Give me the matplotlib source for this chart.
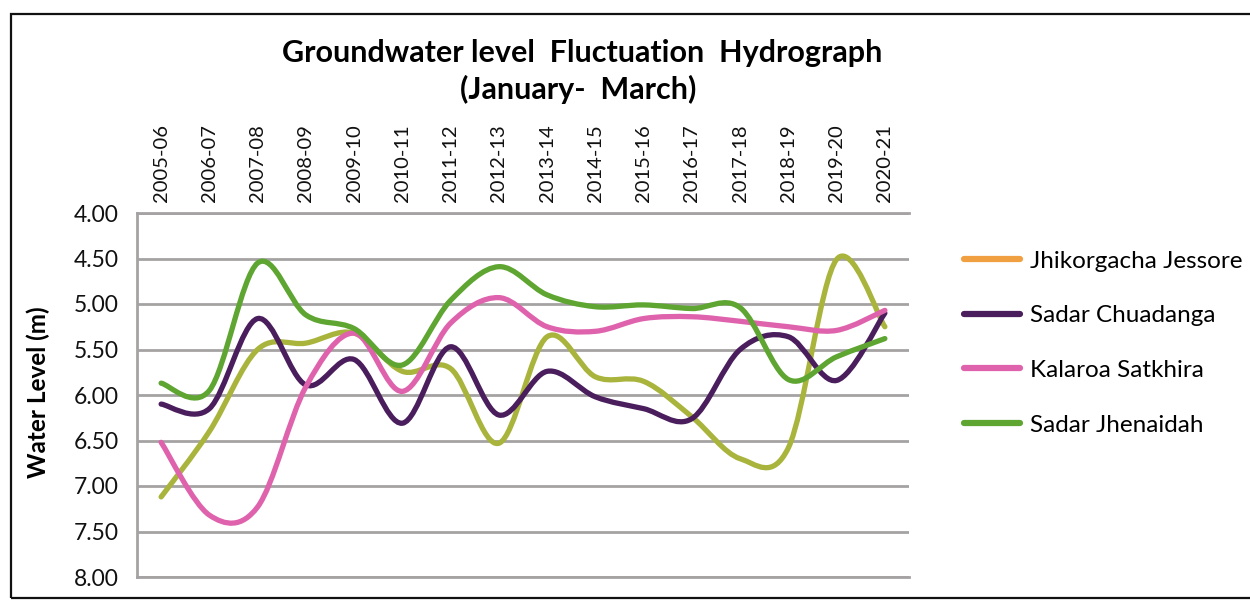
import matplotlib
matplotlib.use("Agg")
import matplotlib.pyplot as plt
from matplotlib.path import Path
from matplotlib.patches import PathPatch, Rectangle
from matplotlib.lines import Line2D
import numpy as np

plt.rcParams['font.family'] = ['Lato', 'DejaVu Sans']

categories = ['2005-06', '2006-07', '2007-08', '2008-09', '2009-10', '2010-11',
              '2011-12', '2012-13', '2013-14', '2014-15', '2015-16', '2016-17',
              '2017-18', '2018-19', '2019-20', '2020-21']

jhikorgacha = [7.12, 6.40, 5.50, 5.43, 5.32, 5.74, 5.71, 6.53, 5.36, 5.80,
               5.85, 6.24, 6.70, 6.58, 4.51, 5.25]
chuadanga = [6.10, 6.15, 5.16, 5.89, 5.61, 6.31, 5.47, 6.22, 5.74, 6.02,
             6.15, 6.26, 5.50, 5.36, 5.84, 5.10]
kalaroa = [6.52, 7.32, 7.23, 5.91, 5.32, 5.96, 5.21, 4.93, 5.25, 5.30,
           5.16, 5.14, 5.19, 5.25, 5.29, 5.07]
jhenaidah = [5.87, 5.95, 4.55, 5.12, 5.27, 5.67, 4.96, 4.59, 4.90, 5.03,
             5.01, 5.05, 5.04, 5.83, 5.58, 5.38]

series_names = ['Jhikorgacha Jessore', 'Sadar Chuadanga', 'Kalaroa Satkhira', 'Sadar Jhenaidah']
series_values = [jhikorgacha, chuadanga, kalaroa, jhenaidah]
line_colors = ['#a9b43c', '#4a1d5c', '#df62ad', '#5ea531']
legend_colors = ['#f0a040', '#4a1d5c', '#df62ad', '#5ea531']
yticks = [4.0, 4.5, 5.0, 5.5, 6.0, 6.5, 7.0, 7.5, 8.0]

fig = plt.figure(figsize=(12.5, 6.01), dpi=100)
ax = fig.add_axes([137/1250, 1-577/601, 772/1250, 364/601])

x = np.arange(len(categories))


def smooth_path(xs, ys):
    # Excel-style smoothed line: cubic Bezier segments through every point
    pts = np.column_stack([xs, ys]).astype(float)
    n = len(pts)
    verts = [pts[0]]
    codes = [Path.MOVETO]
    for i in range(n - 1):
        p0 = pts[i - 1] if i > 0 else pts[i]
        p1 = pts[i]
        p2 = pts[i + 1]
        p3 = pts[i + 2] if i + 2 < n else pts[i + 1]
        c1 = p1 + (p2 - p0) / 6.0
        c2 = p2 - (p3 - p1) / 6.0
        verts += [c1, c2, p2]
        codes += [Path.CURVE4] * 3
    return Path(verts, codes)


for vals, col in zip(series_values, line_colors):
    patch = PathPatch(smooth_path(x, vals), facecolor='none', edgecolor=col,
                      lw=3.8, capstyle='round', joinstyle='round', zorder=3)
    ax.add_patch(patch)

ax.set_xlim(-0.5, len(categories) - 0.5)
ax.set_ylim(8.0, 4.0)
ax.set_yticks(yticks)
ax.set_yticklabels([f'{v:.2f}' for v in yticks], fontsize=16.5, color='#111111')
ax.set_xticks(x)
ax.set_xticklabels(categories, rotation=90, fontsize=14.5, color='#111111')
ax.xaxis.tick_top()
ax.tick_params(axis='x', length=0, pad=8)
ax.tick_params(axis='y', length=0, pad=13)

grid_col = '#a5a2a2'
ax.yaxis.grid(True, color=grid_col, lw=2.0)
ax.set_axisbelow(True)
for s in ['top', 'bottom', 'left']:
    ax.spines[s].set_color(grid_col)
    ax.spines[s].set_linewidth(2.0)
ax.spines['right'].set_visible(False)

fig.text(582/1250, 1-53/601, 'Groundwater level  Fluctuation  Hydrograph',
         ha='center', va='center', fontsize=22, fontweight='bold')
fig.text(578/1250, 1-89/601, '(January-  March)',
         ha='center', va='center', fontsize=22, fontweight='bold')
fig.text(38/1250, 1-392/601, 'Water Level (m)', rotation=90,
         ha='center', va='center', fontsize=17.5, fontweight='bold')

handles = [Line2D([], [], color=c, lw=4.5, solid_capstyle='round') for c in legend_colors]
fig.legend(handles, series_names, loc='upper left',
           bbox_to_anchor=(942/1250, 1-229/601), frameon=False,
           fontsize=17.5, handlelength=2.3, handletextpad=0.4, labelspacing=1.38)

frame = Rectangle((11/1250, 1-598/601), 1.2, (598-14)/601, transform=fig.transFigure,
                  fill=False, edgecolor='#111111', lw=1.6, clip_on=False)
fig.patches.append(frame)

fig.savefig('out.png', dpi=100)
